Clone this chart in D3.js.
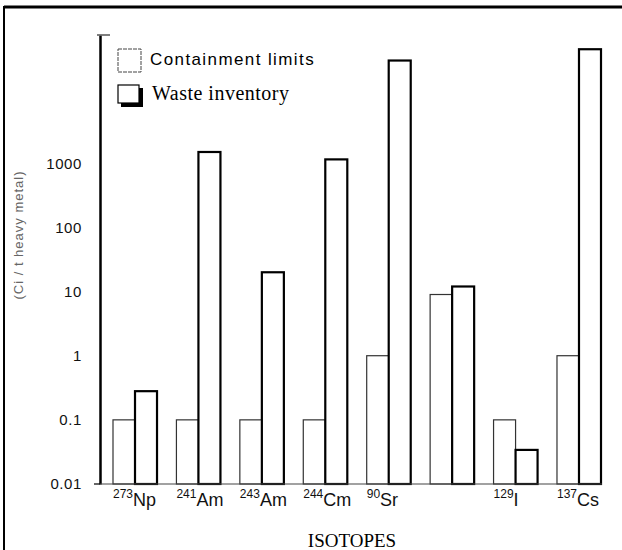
<!DOCTYPE html>
<html>
<head>
<meta charset="utf-8">
<script src="https://cdn.jsdelivr.net/npm/d3@7/dist/d3.min.js"></script>
<style>
  body { margin: 0; background: #fff; }
  svg { display: block; }
  .tick text { font-family: "Liberation Sans", Arial, sans-serif; font-size: 15px; letter-spacing: 0.6px; fill: #111; }
</style>
</head>
<body>
<div id="chart"></div>
<script>
// Isotope groups (label parts as printed)
var isotopes = ['Np', 'Am241', 'Am243', 'Cm', 'Sr', 'Tc', 'I', 'Cs'];
var massNumbers = ['273', '241', '243', '244', '90', '', '129', '137'];
var elements = ['Np', 'Am', 'Am', 'Cm', 'Sr', '', 'I', 'Cs'];

// Ci per tonne heavy metal (log scale)
var containmentLimits = [0.1, 0.1, 0.1, 0.1, 1, 9, 0.1, 1];
var wasteInventory = [0.28, 1500, 20, 1150, 40000, 12, 0.034, 60000];

var yTicks = [0.01, 0.1, 1, 10, 100, 1000];

function createChart() {
  var width = 622;
  var height = 550;

  var svg = d3.select('#chart')
    .append('svg')
    .attr('width', width)
    .attr('height', height);

  // scanned page frame
  svg.append('line')
    .attr('x1', 4).attr('x2', width).attr('y1', 7).attr('y2', 7)
    .style('stroke', '#000').style('stroke-width', 3);
  svg.append('line')
    .attr('x1', 4).attr('x2', 4).attr('y1', 6).attr('y2', height)
    .style('stroke', '#000').style('stroke-width', 2);

  return svg;
}

function renderChart(svg) {
  var y = d3.scaleLog()
    .domain([0.01, 1e5])
    .range([484, 35]);

  var x = d3.scaleBand()
    .domain(isotopes)
    .range([113, 601])
    .paddingInner(0.306)
    .paddingOuter(0);

  var xSub = d3.scaleBand()
    .domain(['limit', 'waste'])
    .range([0, x.bandwidth()]);

  var data = isotopes.map((iso, i) => ({
    iso: iso,
    sup: massNumbers[i],
    el: elements[i],
    limit: containmentLimits[i],
    waste: wasteInventory[i]
  }));

  // bars
  var groups = svg.selectAll('g.iso')
    .data(data)
    .enter()
    .append('g')
    .attr('class', 'iso')
    .attr('transform', d => 'translate(' + x(d.iso) + ',0)');

  groups.append('rect')
    .attr('x', xSub('limit'))
    .attr('width', xSub.bandwidth())
    .attr('y', d => y(d.limit))
    .attr('height', d => y(0.01) - y(d.limit))
    .style('fill', '#fff')
    .style('stroke', '#333')
    .style('stroke-width', 1.2);

  groups.append('rect')
    .attr('x', xSub('waste'))
    .attr('width', xSub.bandwidth())
    .attr('y', d => y(d.waste))
    .attr('height', d => y(0.01) - y(d.waste))
    .style('fill', '#fff')
    .style('stroke', '#000')
    .style('stroke-width', 2.2);

  // y axis
  var axis = d3.axisLeft(y)
    .tickValues(yTicks)
    .tickFormat(d3.format('~g'))
    .tickSize(0)
    .tickSizeOuter(0)
    .tickPadding(18);

  var yAxis = svg.append('g')
    .attr('transform', 'translate(100,0)')
    .call(axis);
  yAxis.select('.domain').style('stroke', '#000').style('stroke-width', 2.5);

  // small caps at both ends of the axis
  svg.append('line')
    .attr('x1', 97).attr('x2', 110)
    .attr('y1', y(1e5)).attr('y2', y(1e5))
    .style('stroke', '#555').style('stroke-width', 1.5);
  svg.append('line')
    .attr('x1', 94).attr('x2', 100)
    .attr('y1', y(0.01)).attr('y2', y(0.01))
    .style('stroke', '#000').style('stroke-width', 1.2);

  // baseline
  svg.append('line')
    .attr('x1', 100).attr('x2', x.range()[1] + 1)
    .attr('y1', y(0.01)).attr('y2', y(0.01))
    .style('stroke', '#444').style('stroke-width', 1.2);

  // isotope labels with superscript mass numbers
  var labels = svg.selectAll('text.iso-label')
    .data(data.filter(d => d.el !== ''))
    .enter()
    .append('text')
    .attr('class', 'iso-label')
    .attr('x', d => x(d.iso))
    .attr('y', 506)
    .style('font-family', '"Liberation Sans", Arial, sans-serif')
    .style('font-size', '18px')
    .style('fill', '#111');

  labels.append('tspan')
    .attr('dy', -8)
    .style('font-size', '12px')
    .text(d => d.sup);
  labels.append('tspan')
    .attr('dy', 8)
    .text(d => d.el);

  // axis titles
  svg.append('text')
    .attr('x', 352)
    .attr('y', 547)
    .attr('text-anchor', 'middle')
    .style('font-family', '"Liberation Serif", "Times New Roman", serif')
    .style('font-size', '19px')
    .text('ISOTOPES');

  svg.append('text')
    .attr('transform', 'translate(23,235) rotate(-90)')
    .attr('text-anchor', 'middle')
    .style('font-family', '"Liberation Sans", Arial, sans-serif')
    .style('font-size', '13px')
    .style('letter-spacing', '1px')
    .style('fill', '#666')
    .text('(Ci / t heavy metal)');

  // legend
  var legend = svg.append('g');

  legend.append('rect')
    .attr('x', 118).attr('y', 49).attr('width', 23).attr('height', 23)
    .style('fill', '#fff').style('stroke', '#444').style('stroke-width', 1)
    .style('stroke-dasharray', '4,1');
  legend.append('text')
    .attr('x', 150).attr('y', 65)
    .style('font-family', '"Liberation Sans", Arial, sans-serif')
    .style('font-size', '17px')
    .style('letter-spacing', '1.4px')
    .text('Containment limits');

  legend.append('rect')
    .attr('x', 121).attr('y', 88).attr('width', 22).attr('height', 19)
    .style('fill', '#000');
  legend.append('rect')
    .attr('x', 118).attr('y', 85).attr('width', 21).attr('height', 18)
    .style('fill', '#fff').style('stroke', '#000').style('stroke-width', 1.2);
  legend.append('text')
    .attr('x', 152).attr('y', 100)
    .style('font-family', '"Liberation Serif", "Times New Roman", serif')
    .style('font-size', '20px')
    .style('letter-spacing', '0.5px')
    .text('Waste inventory');
}

function init() {
  var svg = createChart();
  renderChart(svg);
}

window.onload = init;
</script>
</body>
</html>
